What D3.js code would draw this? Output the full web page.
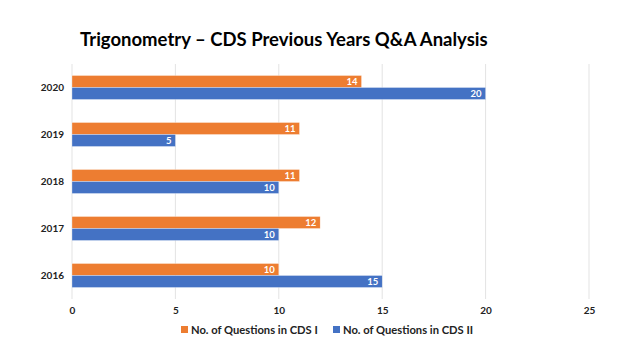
<!DOCTYPE html>
<html><head><meta charset="utf-8">
<script src="https://cdn.jsdelivr.net/npm/d3@7"></script>
<style>body{margin:0;background:#fff}svg{display:block}</style>
</head><body>
<svg id="chart" width="640" height="360"></svg>
<script>
const years = ["2020","2019","2018","2017","2016"];
const cdsI = [14, 11, 11, 12, 10];
const cdsII = [20, 5, 10, 10, 15];
const seriesNames = ["No. of Questions in CDS I", "No. of Questions in CDS II"];
const seriesColors = ["#ED7D31", "#4472C4"];
const xTicks = [0, 5, 10, 15, 20, 25];
const title = "Trigonometry \u2013 CDS Previous Years Q&A Analysis";

const svg = d3.select("#chart");
const font = "Lato, 'Open Sans', sans-serif";
const m = {left: 72, right: 51, top: 64, bottom: 61};
const W = 640, H = 360;
const x = d3.scaleLinear().domain([0, 25]).range([m.left, W - m.right]);
const y = d3.scaleBand().domain(years).range([m.top, H - m.bottom]).paddingInner(0.49).paddingOuter(0.245);
const sub = d3.scaleBand().domain([0, 1]).range([0, y.bandwidth()]);

svg.append("text").attr("x", 80).attr("y", 46).attr("font-family", font).attr("font-weight", "bold")
  .attr("font-size", 18.5).attr("fill", "#000").text(title);

// gridlines
svg.append("g").selectAll("line").data(xTicks).join("line")
  .attr("x1", d => x(d)).attr("x2", d => x(d)).attr("y1", m.top).attr("y2", H - m.bottom)
  .attr("stroke", "#e3e3e3").attr("stroke-width", 1);

// x axis
const xa = svg.append("g").attr("transform", `translate(0,${H - m.bottom})`)
  .call(d3.axisBottom(x).tickValues(xTicks).tickSize(0).tickPadding(8));
xa.select(".domain").remove();
xa.selectAll("text").attr("font-family", font).attr("font-weight", "bold").attr("font-size", 10).attr("fill", "#222");

// y axis
const ya = svg.append("g").attr("transform", `translate(${m.left},0)`)
  .call(d3.axisLeft(y).tickSize(0).tickPadding(8));
ya.select(".domain").remove();
ya.selectAll("text").attr("font-family", font).attr("font-weight", "bold").attr("font-size", 10).attr("fill", "#222");

const data = [cdsI, cdsII];
data.forEach((vals, si) => {
  const g = svg.append("g");
  g.selectAll("rect").data(vals).join("rect")
    .attr("x", x(0)).attr("y", (d, i) => y(years[i]) + sub(si))
    .attr("width", d => x(d) - x(0)).attr("height", sub.bandwidth())
    .attr("fill", seriesColors[si]).attr("stroke", "#ffffff").attr("stroke-opacity", 0.6).attr("stroke-width", 0.5);
  g.selectAll("text").data(vals).join("text")
    .attr("x", d => x(d) - 4).attr("y", (d, i) => y(years[i]) + sub(si) + sub.bandwidth() / 2)
    .attr("dy", "0.36em").attr("text-anchor", "end")
    .attr("font-family", font).attr("font-weight", "bold").attr("font-size", 9.5).attr("fill", "#fff")
    .text(d => d);
});

// legend
const lg = svg.append("g").attr("transform", "translate(0,330)");
const lx = [181, 333];
seriesNames.forEach((n, i) => {
  lg.append("rect").attr("x", lx[i]).attr("y", -4).attr("width", 7).attr("height", 7).attr("fill", seriesColors[i]);
  lg.append("text").attr("x", lx[i] + 10).attr("y", 0).attr("dy", "0.36em")
    .attr("font-family", font).attr("font-weight", "bold").attr("font-size", 11.2).attr("fill", "#222").text(n);
});
</script>
</body></html>
